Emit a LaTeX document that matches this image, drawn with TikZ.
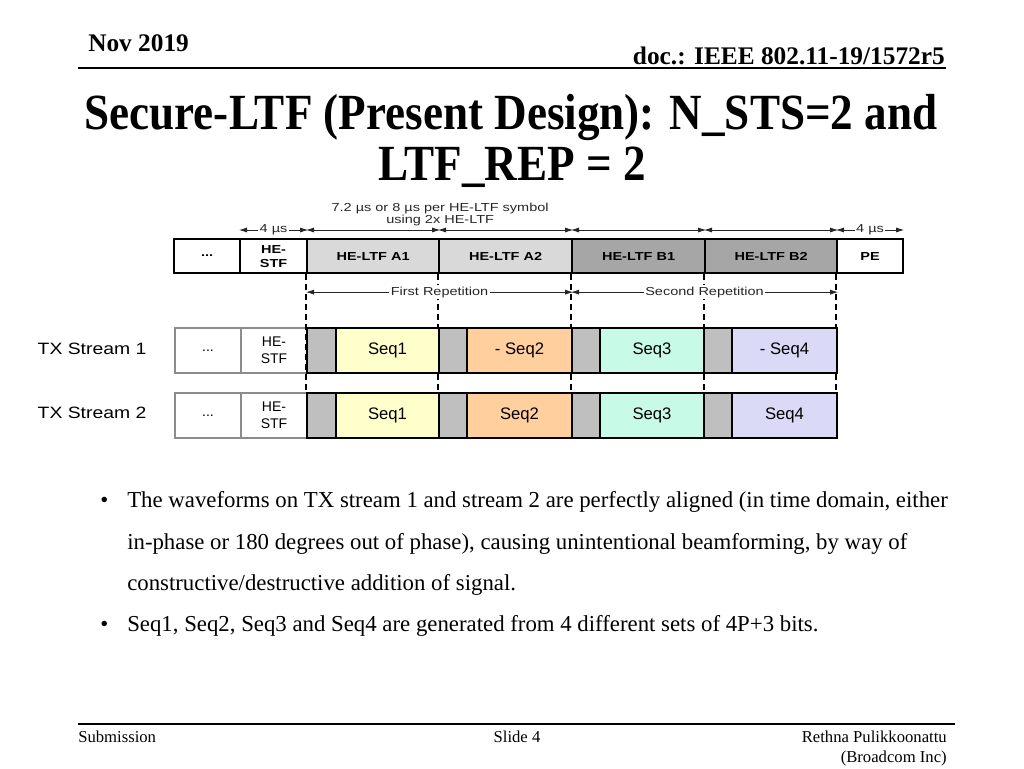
\documentclass[tikz,border=0pt]{standalone}
\usepackage{fontspec}
\usepackage{graphicx}
\setmainfont{Liberation Serif}
\setsansfont{Liberation Sans}
\usetikzlibrary{arrows.meta}
\definecolor{ltfA}{HTML}{D9D9D9}
\definecolor{ltfB}{HTML}{A6A6A6}
\definecolor{gblk}{HTML}{BFBFBF}
\definecolor{sqA}{HTML}{FFFFCC}
\definecolor{sqB}{HTML}{FFCF9E}
\definecolor{sqC}{HTML}{C8FAE8}
\definecolor{sqD}{HTML}{DADAF7}
\definecolor{gedge}{HTML}{8C8C8C}
\newcommand\hsc[2]{\scalebox{#1}[1]{#2}}
% \blk{style}{name}{x1}{y1}{x2}{y2}{text}
\newcommand\blk[7]{\node[#1,anchor=north west,minimum width={(#5-#3)*0.75pt},minimum height={(#6-#4)*0.75pt}] (#2) at (#3,#4) {#7};}
\begin{document}
\begin{tikzpicture}[x=0.75pt,y=-0.75pt,
  topbox/.style={draw=black,line width=1.6pt,inner sep=0pt,font=\sffamily\bfseries\fontsize{8.7}{10.5}\selectfont,align=center},
  strbox/.style={draw=black,line width=1.5pt,inner sep=0pt,font=\sffamily\fontsize{12.5}{14}\selectfont,align=center},
  grbox/.style={strbox,draw=gedge,font=\sffamily\fontsize{10.5}{12.5}\selectfont},
  dim/.style={{Latex[length=6pt,width=3.8pt]}-{Latex[length=6pt,width=3.8pt]},line width=0.6pt,draw=black!85},
  dimlab/.style={fill=white,inner sep=1pt,text=black!85,font=\sffamily\fontsize{8.7}{10}\selectfont},
  vdash/.style={draw=black,line width=0.8pt,dash pattern=on 4.5pt off 3pt},
  txlab/.style={font=\sffamily\fontsize{12.3}{14}\selectfont},
  body/.style={font=\fontsize{17.1}{20}\selectfont,anchor=base west,inner sep=0pt},
  foot/.style={font=\fontsize{12.5}{15}\selectfont,inner sep=0pt}]
\useasboundingbox (0,0) rectangle (1024,768);

% header
\node[anchor=base west,inner sep=0pt,font=\bfseries\fontsize{19}{22}\selectfont] (date) at (88,51) {Nov 2019};
\node[anchor=base east,inner sep=0pt,font=\bfseries\fontsize{19}{22}\selectfont] (doc) at (945,64) {doc.: IEEE 802.11-19/1572r5};
\draw[line width=1.1pt] (78,68) -- (946,68);

% title
\node[anchor=base,inner sep=0pt,font=\bfseries\fontsize{38}{44}\selectfont] (t1) at (511,129) {\hsc{0.89}{Secure-LTF (Present Design): N\_STS=2 and}};
\node[anchor=base,inner sep=0pt,font=\bfseries\fontsize{38}{44}\selectfont] (t2) at (512,180) {\hsc{0.89}{LTF\_REP = 2}};

% top frame
\blk{topbox,fill=white}{b0}{173}{238}{239}{272}{\hsc{1.25}{...}}
\blk{topbox,fill=white}{b1}{239}{238}{306}{272}{\hsc{1.25}{HE-}\\\hsc{1.25}{STF}}
\blk{topbox,fill=ltfA}{a1}{306}{238}{438}{272}{\hsc{1.25}{HE-LTF A1}}
\blk{topbox,fill=ltfA}{a2}{438}{238}{571}{272}{\hsc{1.25}{HE-LTF A2}}
\blk{topbox,fill=ltfB}{bb1}{571}{238}{704}{272}{\hsc{1.25}{HE-LTF B1}}
\blk{topbox,fill=ltfB}{bb2}{704}{238}{836}{272}{\hsc{1.25}{HE-LTF B2}}
\blk{topbox,fill=white}{pe}{836}{238}{902}{272}{\hsc{1.25}{PE}}

% dimension arrows
\draw[dim] ([yshift=6pt]b1.north west) -- node[dimlab]{\hsc{1.25}{4 µs}} ([yshift=6pt]b1.north east);
\draw[dim] ([yshift=6pt]a1.north west) -- ([yshift=6pt]a1.north east);
\draw[dim] ([yshift=6pt]a2.north west) -- ([yshift=6pt]a2.north east);
\draw[dim] ([yshift=6pt]bb1.north west) -- ([yshift=6pt]bb1.north east);
\draw[dim] ([yshift=6pt]bb2.north west) -- ([yshift=6pt]bb2.north east);
\draw[dim] ([yshift=6pt]pe.north west) -- node[dimlab]{\hsc{1.25}{4 µs}} ([yshift=6pt]pe.north east);
\node[align=center,inner sep=0pt,text=black!85,font=\sffamily\fontsize{8.7}{8.8}\selectfont] (sym) at ([yshift=17.5pt]a1.north east) {\hsc{1.25}{7.2 µs or 8 µs per HE-LTF symbol}\\\hsc{1.25}{using 2x HE-LTF}};

% streams: preamble part
\blk{grbox}{s1d}{174}{327}{240}{372}{...}
\blk{grbox}{s1h}{240}{327}{306}{372}{HE-\\STF}
\blk{grbox}{s2d}{174}{392}{240}{437}{...}
\blk{grbox}{s2h}{240}{392}{306}{437}{HE-\\STF}

% dashed guides (behind stream blocks)
\coordinate (e1) at (306,392);
\coordinate (e2) at (438,392);
\coordinate (e3) at (571,392);
\coordinate (e4) at (704,392);
\coordinate (e5) at (836,392);
\draw[vdash] (a1.south west) -- (e1);
\draw[vdash] (a2.south west) -- (e2);
\draw[vdash] (bb1.south west) -- (e3);
\draw[vdash] (bb2.south west) -- (e4);
\draw[vdash] (pe.south west) -- (e5);

% stream 1
\blk{strbox,fill=gblk}{s1g1}{306}{327}{335}{372}{}
\blk{strbox,fill=sqA}{s1q1}{335}{327}{438}{372}{Seq1}
\blk{strbox,fill=gblk}{s1g2}{438}{327}{466}{372}{}
\blk{strbox,fill=sqB}{s1q2}{466}{327}{571}{372}{- Seq2}
\blk{strbox,fill=gblk}{s1g3}{571}{327}{599}{372}{}
\blk{strbox,fill=sqC}{s1q3}{599}{327}{703}{372}{Seq3}
\blk{strbox,fill=gblk}{s1g4}{703}{327}{731}{372}{}
\blk{strbox,fill=sqD}{s1q4}{731}{327}{836}{372}{- Seq4}
% stream 2
\blk{strbox,fill=gblk}{s2g1}{306}{392}{335}{437}{}
\blk{strbox,fill=sqA}{s2q1}{335}{392}{438}{437}{Seq1}
\blk{strbox,fill=gblk}{s2g2}{438}{392}{466}{437}{}
\blk{strbox,fill=sqB}{s2q2}{466}{392}{571}{437}{Seq2}
\blk{strbox,fill=gblk}{s2g3}{571}{392}{599}{437}{}
\blk{strbox,fill=sqC}{s2q3}{599}{392}{703}{437}{Seq3}
\blk{strbox,fill=gblk}{s2g4}{703}{392}{731}{437}{}
\blk{strbox,fill=sqD}{s2q4}{731}{392}{836}{437}{Seq4}

% repetition arrows
\draw[dim] ([yshift=-13.5pt]a1.south west) -- node[dimlab]{\hsc{1.25}{First Repetition}} ([yshift=-13.5pt]a2.south east);
\draw[dim] ([yshift=-13.5pt]bb1.south west) -- node[dimlab]{\hsc{1.25}{Second Repetition}} ([yshift=-13.5pt]bb2.south east);

\node[txlab] (tx1) at (92,349) {\hsc{1.18}{TX Stream 1}};
\node[txlab] (tx2) at (92,413) {\hsc{1.18}{TX Stream 2}};

% bullets
\node[body] (p1) at (100,507) {•};
\node[body] (l1) at (127,507) {The waveforms on TX stream 1 and stream 2 are perfectly aligned (in time domain, either};
\node[body] (l2) at (127,549) {in-phase or 180 degrees out of phase), causing unintentional beamforming, by way of};
\node[body] (l3) at (127,590) {constructive/destructive addition of signal.};
\node[body] (p2) at (100,631) {•};
\node[body] (l4) at (127,631) {Seq1, Seq2, Seq3 and Seq4 are generated from 4 different sets of 4P+3 bits.};

% footer
\draw[line width=1.1pt] (78,724) -- (955,724);
\node[foot,anchor=base west] (sub) at (78,742) {Submission};
\node[foot,anchor=base] (sl) at (517,742) {Slide 4};
\node[foot,anchor=base east] (au) at (947,742) {Rethna Pulikkoonattu};
\node[foot,anchor=base east] (co) at (947,762) {(Broadcom Inc)};
\end{tikzpicture}
\end{document}
